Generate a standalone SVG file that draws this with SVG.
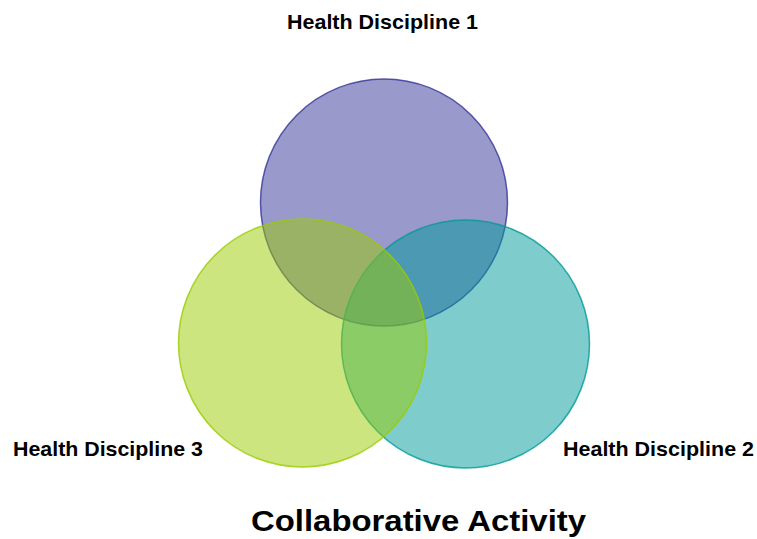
<svg xmlns="http://www.w3.org/2000/svg" width="757" height="539" viewBox="0 0 757 539">
<style>
.lbl{font-family:"Liberation Sans",Arial,sans-serif;font-weight:bold;font-size:21px;fill:#000;text-anchor:middle}
.title{font-family:"Liberation Sans",Arial,sans-serif;font-weight:bold;font-size:29px;fill:#000;text-anchor:middle}
.c{stroke-width:1.5}
</style>
<rect width="757" height="539" fill="#fff"/>
<g id="discipline1">
<circle class="c" cx="384" cy="202.5" r="123.5" fill="#333399" fill-opacity="0.5" stroke="#333399" stroke-opacity="0.8"/>
<text class="lbl" x="382.5" y="29" textLength="191" lengthAdjust="spacingAndGlyphs">Health Discipline 1</text>
</g>
<g id="discipline2">
<circle class="c" cx="465.5" cy="344" r="124" fill="#009999" fill-opacity="0.5" stroke="#009999" stroke-opacity="0.8"/>
<text class="lbl" x="658.5" y="456" textLength="191" lengthAdjust="spacingAndGlyphs">Health Discipline 2</text>
</g>
<g id="discipline3">
<circle class="c" cx="302.5" cy="343" r="124" fill="#99CC00" fill-opacity="0.5" stroke="#99CC00" stroke-opacity="0.8"/>
<text class="lbl" x="108" y="456" textLength="190" lengthAdjust="spacingAndGlyphs">Health Discipline 3</text>
</g>
<g id="connectors"></g>
<g id="title">
<text class="title" x="418.5" y="530.5" textLength="335" lengthAdjust="spacingAndGlyphs">Collaborative Activity</text>
</g>
</svg>
